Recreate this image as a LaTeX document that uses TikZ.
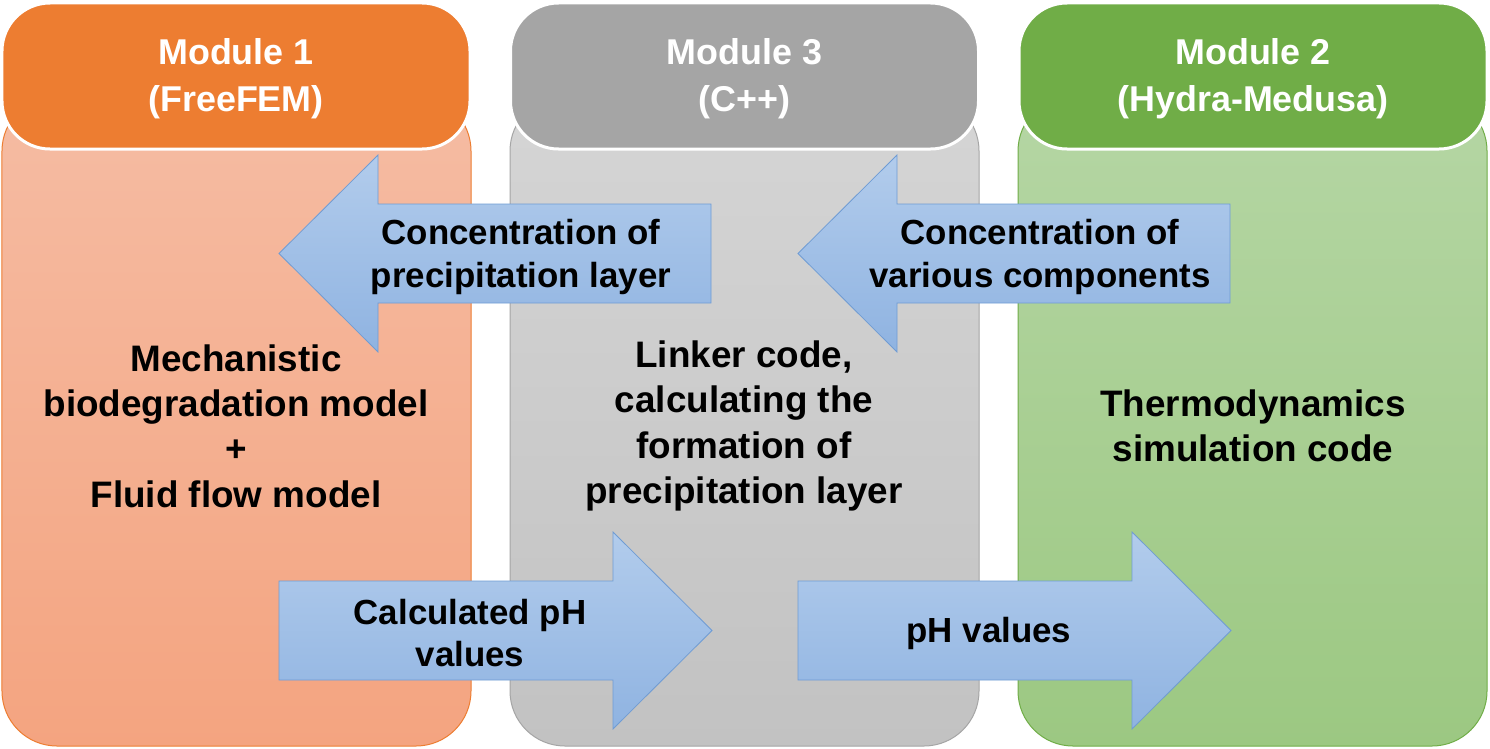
\documentclass[tikz,border=0pt]{standalone}
\usepackage{fontspec}
\setmainfont{Liberation Sans}
\begin{document}
\begin{tikzpicture}[x=1bp,y=-1bp,
  body/.style={rounded corners=55bp, minimum width=469bp, minimum height=650bp, inner sep=0pt, line width=1bp},
  head/.style={rounded corners=48bp, minimum width=468bp, minimum height=146bp, inner sep=0pt, draw=white, line width=3bp,
     text=white, font=\bfseries\fontsize{36}{47}\selectfont, align=center},
  bodytext/.style={font=\bfseries\fontsize{37}{45.5}\selectfont, align=center, text=black},
  arrowtext/.style={font=\bfseries\fontsize{35}{43}\selectfont, align=center, text=black},
  flow/.style={draw=arrowline, line width=0.8bp, top color=arrowtop, bottom color=arrowbot}]
\definecolor{orhead}{HTML}{ED7D31}
\definecolor{grhead}{HTML}{A5A5A5}
\definecolor{gnhead}{HTML}{70AD47}
\definecolor{ortop}{HTML}{F5BCA3}
\definecolor{orbot}{HTML}{F4A480}
\definecolor{grtop}{HTML}{D5D5D5}
\definecolor{grbot}{HTML}{C2C2C2}
\definecolor{gntop}{HTML}{B5D6A4}
\definecolor{gnbot}{HTML}{9CC882}
\definecolor{arrowtop}{HTML}{B2CCEC}
\definecolor{arrowbot}{HTML}{8FB3E1}
\definecolor{arrowline}{HTML}{6F9CD4}
\path[use as bounding box, fill=white] (0,0) rectangle (1490,748);
% bodies
\node[body, draw=orhead, top color=ortop, bottom color=orbot] (body1) at (236.5,421) {};
\node[body, draw=grhead, top color=grtop, bottom color=grbot] (body3) at (744.5,421) {};
\node[body, draw=gnhead, top color=gntop, bottom color=gnbot] (body2) at (1252.5,421) {};
% headers
\node[head, fill=orhead] (head1) at (236,76) {};
\node[head, fill=grhead] (head3) at (744.5,76) {};
\node[head, fill=gnhead] (head2) at (1253,76) {};
\node[head, draw=none, fill=none, minimum width=0pt, minimum height=0pt] (h1) at (236,79) {Module 1\\(FreeFEM)};
\node[head, draw=none, fill=none, minimum width=0pt, minimum height=0pt] (h3) at (744.5,79) {Module 3\\(C++)};
\node[head, draw=none, fill=none, minimum width=0pt, minimum height=0pt] (h2) at (1253,79) {Module 2\\(Hydra-Medusa)};
% body texts
\node[bodytext] (t1) at (236,426) {Mechanistic\\biodegradation model\\+\\Fluid flow model};
\node[bodytext] (t3) at (744,426) {Linker code,\\calculating the\\formation of\\precipitation layer};
\node[bodytext] (t2) at (1253,426) {Thermodynamics\\simulation code};
% arrows
\path[flow] (279,253.5) coordinate (a1tip) -- (378,155) -- (378,204) -- (711,204) -- (711,303) -- (378,303) -- (378,352) -- cycle;
\path[flow] (798,253.5) coordinate (a2tip) -- (897,155) -- (897,204) -- (1230,204) -- (1230,303) -- (897,303) -- (897,352) -- cycle;
\path[flow] (712,630.5) coordinate (a3tip) -- (613,532) -- (613,581) -- (279,581) -- (279,680) -- (613,680) -- (613,729) -- cycle;
\path[flow] (1231,630.5) coordinate (a4tip) -- (1132,532) -- (1132,581) -- (798,581) -- (798,680) -- (1132,680) -- (1132,729) -- cycle;
\node[arrowtext] (l1) at (521,257) {Concentration of\\precipitation layer};
\node[arrowtext] (l2) at (1040,257) {Concentration of\\various components};
\node[arrowtext] (l3) at (470,633) {Calculated pH\\values};
\node[arrowtext] (l4) at (989,633) {pH values};
\end{tikzpicture}
\end{document}
